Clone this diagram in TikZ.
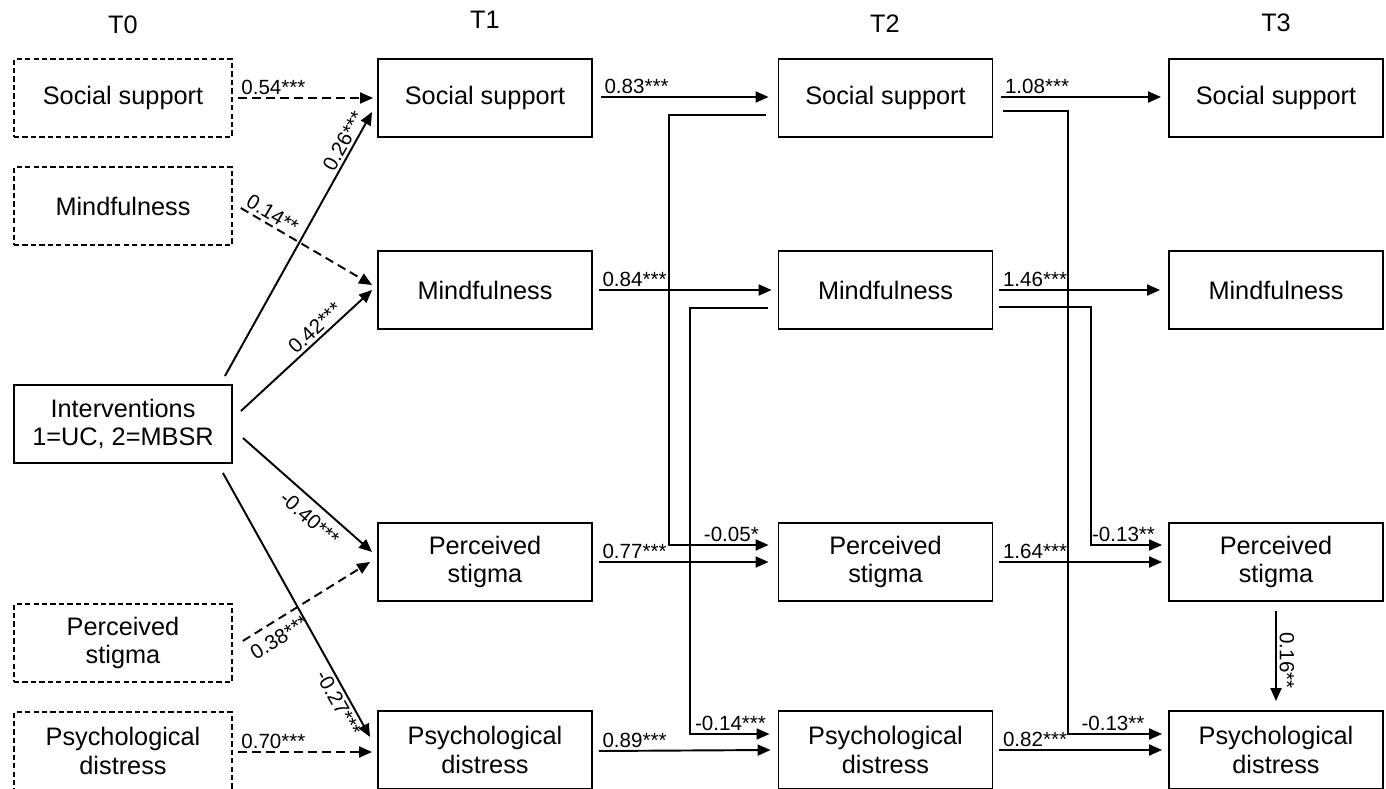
\documentclass[tikz,border=0pt]{standalone}
\usepackage{fontspec}
\setmainfont{Liberation Sans}
\usetikzlibrary{arrows.meta}

\begin{document}
\begin{tikzpicture}[x=0.02cm, y=-0.02cm,
    box/.style={draw, line width=1.1pt, minimum width=4.28cm, minimum height=1.56cm,
      align=center, inner sep=2pt, font=\fontsize{14.4}{16}\selectfont},
    oldbox/.style={box, line width=0.9pt, dash pattern=on 3pt off 1.8pt, minimum width=4.36cm},
    wave/.style={font=\fontsize{14.4}{16}\selectfont},
    lbl/.style={font=\fontsize{11.7}{13}\selectfont, inner sep=1.5pt},
    arr/.style={line width=1.1pt, -{Triangle[length=0.26cm, width=0.22cm]}},
    darr/.style={arr, dash pattern=on 5pt off 3pt}]
    \useasboundingbox (0,0) rectangle (1386,788);

    % waves
    \node[wave] (t0) at (123,25) {T0};
    \node[wave] (t1) at (485,20) {T1};
    \node[wave] (t2) at (885,24) {T2};
    \node[wave] (t3) at (1276,23) {T3};

    % T0
    \node[oldbox] (ss0) at (123,98) {Social support};
    \node[oldbox] (mind0) at (123,206) {Mindfulness};
    \node[box, minimum width=4.36cm] (int) at (123,424) {Interventions\\1=UC, 2=MBSR};
    \node[oldbox] (ps0) at (123,643) {Perceived\\stigma};
    \node[oldbox] (pd0) at (123,751) {Psychological\\distress};

    % T1
    \node[box] (ss1) at (485,98) {Social support};
    \node[box] (mind1) at (485,290) {Mindfulness};
    \node[box] (ps1) at (485,562) {Perceived\\stigma};
    \node[box] (pd1) at (485,750) {Psychological\\distress};

    % T2
    \node[box] (ss2) at (885.5,98) {Social support};
    \node[box] (mind2) at (885.5,290) {Mindfulness};
    \node[box] (ps2) at (885.5,562) {Perceived\\stigma};
    \node[box] (pd2) at (885.5,750) {Psychological\\distress};

    % T3
    \node[box] (ss3) at (1276,98) {Social support};
    \node[box] (mind3) at (1276,290) {Mindfulness};
    \node[box] (ps3) at (1276,562) {Perceived\\stigma};
    \node[box] (pd3) at (1276,750) {Psychological\\distress};

    % T0 -> T1
    \draw[darr] ([shift={(5,0)}]ss0.east) node[lbl, anchor=south west] {0.54***} -- ([shift={(-4,0)}]ss1.west);
    \draw[darr] ([shift={(8,2)}]mind0.east) -- node[lbl, sloped, above, pos=0.2] {0.14**} ([shift={(-5,-5)}]mind1.west);
    \draw[darr] ([shift={(10,-2)}]ps0.east) -- node[lbl, sloped, below=3pt, pos=0.22] {0.38***} ([shift={(-7,0)}]ps1.west);
    \draw[darr] ([shift={(5,1)}]pd0.east) node[lbl, anchor=south west] {0.70***} -- ([shift={(-5,2)}]pd1.west);

    % interventions
    \draw[arr] ([shift={(-8,-8)}]int.north east) -- node[lbl, sloped, above, pos=0.87] {0.26***} ([shift={(-5,14)}]ss1.west);
    \draw[arr] ([shift={(8,-13)}]int.east) -- node[lbl, sloped, above, pos=0.62] {0.42***} ([shift={(-5,0)}]mind1.west);
    \draw[arr] ([shift={(10,14)}]int.east) -- node[lbl, sloped, below=3pt, pos=0.6] {-0.40***} ([shift={(-5,-10)}]ps1.west);
    \draw[arr] ([shift={(-10,9)}]int.south east) -- node[lbl, sloped, below, pos=0.85] {-0.27***} ([shift={(-7,-13)}]pd1.west);

    % T1 -> T2
    \draw[arr] ([shift={(8,-1)}]ss1.east) node[lbl, anchor=south west] {0.83***} -- ([shift={(-9,-1)}]ss2.west);
    \draw[arr] ([shift={(6,0)}]mind1.east) node[lbl, anchor=south west] {0.84***} -- ([shift={(-6,0)}]mind2.west);
    \draw[arr] ([shift={(6,0)}]ps1.east) node[lbl, anchor=south west] {0.77***} -- ([shift={(-9,0)}]ps2.west);
    \draw[arr] ([shift={(6,1)}]pd1.east) node[lbl, anchor=south west] {0.89***} -- ([shift={(-7,0)}]pd2.west);
    \draw[arr] ([shift={(-12,17)}]ss2.west) -- ++(-97,0) |- ([shift={(-9,-17)}]ps2.west)
      node[lbl, anchor=south east, xshift=-3.5pt] {-0.05*};
    \draw[arr] ([shift={(-10,18)}]mind2.west) -- ++(-78,0) |- ([shift={(-8,-16)}]pd2.west)
      node[lbl, anchor=south east] {-0.14***};

    % T2 -> T3
    \draw[arr] ([shift={(8,-1)}]ss2.east) node[lbl, anchor=south west] {1.08***} -- ([shift={(-7,-1)}]ss3.west);
    \draw[arr] ([shift={(6,0)}]mind2.east) node[lbl, anchor=south west] {1.46***} -- ([shift={(-8,0)}]mind3.west);
    \draw[arr] ([shift={(6,0)}]ps2.east) node[lbl, anchor=south west] {1.64***} -- ([shift={(-6,0)}]ps3.west);
    \draw[arr] ([shift={(6,0)}]pd2.east) node[lbl, anchor=south west] {0.82***} -- ([shift={(-6,0)}]pd3.west);
    \draw[arr] ([shift={(10,13)}]ss2.east) -- ++(65,0) |- ([shift={(-6,-16)}]pd3.west)
      node[lbl, anchor=south east, xshift=-8pt] {-0.13**};
    \draw[arr] ([shift={(6,17)}]mind2.east) -- ++(92,0) |- ([shift={(-6,-17)}]ps3.west)
      node[lbl, anchor=south east, xshift=-2pt] {-0.13**};
    \draw[arr] ([shift={(0,9)}]ps3.south) -- node[lbl, rotate=-90, anchor=south, pos=0.55] {0.16**} ([shift={(0,-9)}]pd3.north);
\end{tikzpicture}
\end{document}
